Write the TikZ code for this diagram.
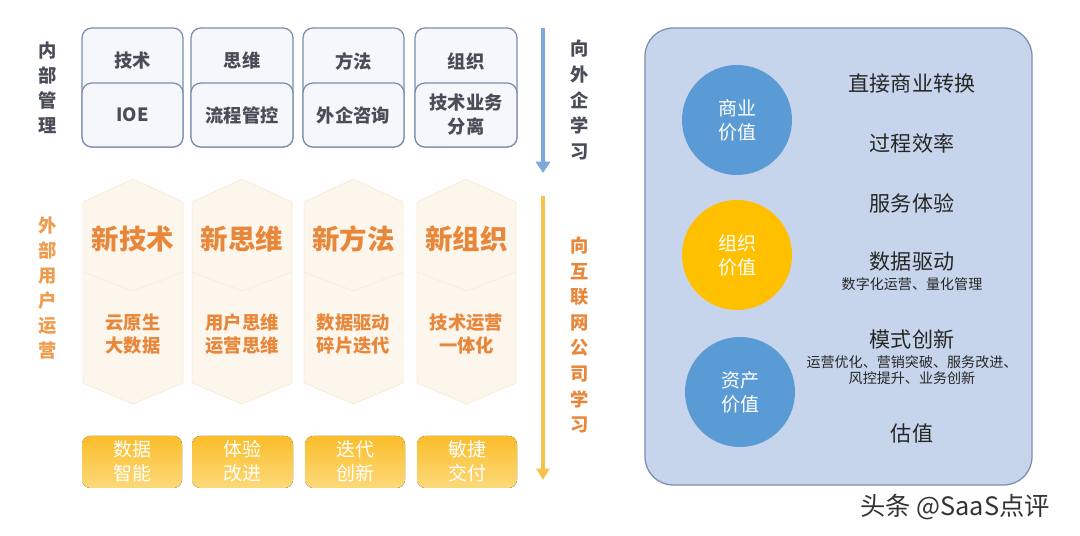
\documentclass[tikz,border=0pt]{standalone}
\usepackage{fontspec}
\setmainfont{Noto Sans CJK SC}
\usepackage{tikz}
\usetikzlibrary{arrows.meta,positioning}

\definecolor{boxline}{HTML}{7A8FB0}
\definecolor{boxfill}{HTML}{F5F7FB}
\definecolor{inktext}{HTML}{4A4D57}
\definecolor{orangetext}{HTML}{E8863A}
\definecolor{orangelabel}{HTML}{EF9C4C}
\definecolor{hexfill}{HTML}{FDF6EC}
\definecolor{hexline}{HTML}{F8ECDB}
\definecolor{goldtop}{HTML}{FBBD2A}
\definecolor{goldbot}{HTML}{FCD97A}
\definecolor{panelfill}{HTML}{C7D5EC}
\definecolor{panelline}{HTML}{7C8FB2}
\definecolor{bluedisc}{HTML}{5B9BD5}
\definecolor{golddisc}{HTML}{FFC000}
\definecolor{arrowblue}{HTML}{7EA7DA}
\definecolor{arrowgold}{HTML}{F4C34C}

\tikzset{
  topbox/.style={draw=boxline, fill=boxfill, line width=0.9pt, rounded corners=7pt},
  toptext/.style={inner sep=0pt, align=center, text=inktext,
    font=\fontsize{13}{17}\selectfont\bfseries},
  hexcol/.style={draw=hexline, fill=hexfill, line width=0.6pt},
  newtext/.style={inner sep=0pt, text=orangetext, font=\fontsize{19.5}{22}\selectfont\bfseries},
  subtext/.style={inner sep=0pt, align=center, text=orangetext,
    font=\fontsize{13}{16}\selectfont\bfseries},
  goldbox/.style={rounded corners=6pt, top color=goldtop, bottom color=goldbot, draw=none},
  goldtext/.style={inner sep=0pt, align=center, text=white, font=\fontsize{13.5}{17}\selectfont},
  sidelabel/.style={inner sep=0pt, align=center, font=\fontsize{13}{17.8}\selectfont\bfseries},
  valuedisc/.style={circle, minimum size=2.75cm, inner sep=0pt, align=center, text=white,
    font=\fontsize{13.5}{17}\selectfont},
  valuetext/.style={inner sep=0pt, text=black!85, font=\fontsize{15}{18}\selectfont},
  valuenote/.style={inner sep=0pt, align=center, text=black!85, font=\fontsize{10}{11.5}\selectfont}
}

\begin{document}
\begin{tikzpicture}[x=0.025cm, y=-0.025cm]
  \useasboundingbox (0,0) rectangle (1080,536);

  % Inner management boxes
  \foreach \xl/\xr/\upper/\lower [count=\i] in
      {82/183/技术/IOE, 191/293/思维/流程管控, 303/404/方法/外企咨询, 415/517/组织/{技术业务\\分离}} {
    \draw[topbox] (\xl,28) rectangle (\xr,147);
    \draw[topbox] (\xl,83) rectangle (\xr,147);
    \node[toptext] (upper-\i) at ({(\xl+\xr)/2},61) {\upper};
    \node[toptext] (lower-\i) at ({(\xl+\xr)/2},115) {\lower};
  }

  % Hexagon columns
  \foreach \xl/\xr/\head/\body [count=\i] in
      {83/183/新技术/{云原生\\大数据}, 192/292/新思维/{用户思维\\运营思维},
       304/403/新方法/{数据驱动\\碎片迭代}, 417/516/新组织/{技术运营\\一体化}} {
    \draw[hexcol] (\xl,202) -- ({(\xl+\xr)/2},179) -- (\xr,202) -- (\xr,383)
      -- ({(\xl+\xr)/2},404) -- (\xl,383) -- cycle;
    \draw[hexline, line width=0.6pt] (\xl,272) -- ({(\xl+\xr)/2},291) -- (\xr,272);
    \node[newtext] (head-\i) at ({(\xl+\xr)/2},239) {\head};
    \node[subtext] (body-\i) at ({(\xl+\xr)/2},334) {\body};
  }

  % Yellow boxes
  \foreach \xl/\xr/\word [count=\i] in
      {82/182/{数据\\智能}, 192/293/{体验\\改进}, 305/405/{迭代\\创新}, 417/517/{敏捷\\交付}} {
    \fill[goldbox] (\xl,436) rectangle (\xr,488);
    \node[goldtext] (gold-\i) at ({(\xl+\xr)/2},461) {\word};
  }

  % Side labels
  \node[sidelabel, text=inktext] (inner) at (48,88) {内\\部\\管\\理};
  \node[sidelabel, text=orangelabel] (outer) at (48,288) {外\\部\\用\\户\\运\\营};
  \node[sidelabel, text=inktext, font=\fontsize{13}{18.4}\selectfont\bfseries]
    (learn-a) at (580,100) {向\\外\\企\\学\\习};
  \node[sidelabel, text=orangetext, font=\fontsize{13}{18.2}\selectfont\bfseries]
    (learn-b) at (580,335) {向\\互\\联\\网\\公\\司\\学\\习};

  % Learning arrows
  \coordinate (blue-tail) at (543,28);
  \coordinate (blue-tip) at (543,173);
  \coordinate (gold-tail) at (543,196);
  \coordinate (gold-tip) at (543,480);
  \draw[-{Triangle[length=8pt, width=10pt]}, arrowblue, line width=3.5pt]
    (blue-tail) -- (blue-tip);
  \draw[-{Triangle[length=8pt, width=9pt]}, arrowgold, line width=2.6pt]
    (gold-tail) -- (gold-tip);

  % Value panel
  \draw[fill=panelfill, draw=panelline, line width=0.9pt, rounded corners=20pt]
    (645,28) rectangle (1032,485);
  \node[valuedisc, fill=bluedisc] (business) at (737,120) {商业\\价值};
  \node[valuedisc, fill=golddisc] (org) at (737,255) {组织\\价值};
  \node[valuedisc, fill=bluedisc] (asset) at (740,392) {资产\\价值};

  \node[valuetext] (convert) at (912,83) {直接商业转换};
  \node[valuetext] (process) at (912,143) {过程效率};
  \node[valuetext] (service) at (912,203) {服务体验};
  \node[valuetext] (data) at (912,262) {数据驱动};
  \node[valuenote] (data-note) at (912,284) {数字化运营、量化管理};
  \node[valuetext] (mode) at (912,339) {模式创新};
  \node[valuenote] (mode-note) at (912,370) {运营优化、营销突破、服务改进、\\风控提升、业务创新};
  \node[valuetext] (worth) at (912,433) {估值};

  % Watermark
  \node[inner sep=0pt, text=black!80, font=\fontsize{18}{20}\selectfont] (mark) at (955,507)
    {头条 @SaaS点评};
\end{tikzpicture}
\end{document}
